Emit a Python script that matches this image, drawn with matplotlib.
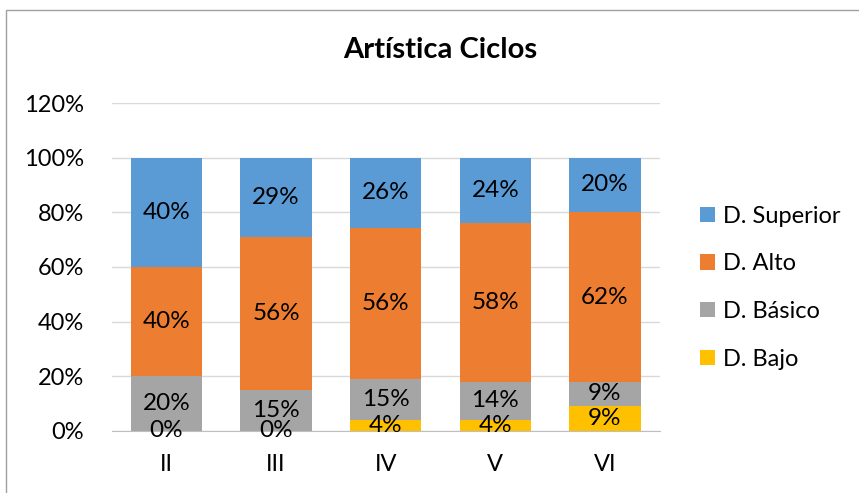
import matplotlib.pyplot as plt
import numpy as np
from matplotlib.patches import Rectangle

plt.rcParams['font.family'] = ['Lato', 'DejaVu Sans']

categories = ["II", "III", "IV", "V", "VI"]
bajo = [0, 0, 4, 4, 9]
basico = [20, 15, 15, 14, 9]
alto = [40, 56, 56, 58, 62]
superior = [40, 29, 26, 24, 20]

series = [("D. Bajo", bajo, "#FFC000"),
          ("D. Básico", basico, "#A5A5A5"),
          ("D. Alto", alto, "#ED7D31"),
          ("D. Superior", superior, "#5B9BD5")]

# 100% stacked: each column scaled to its total
totals = np.sum([s[1] for s in series], axis=0).astype(float)

fig = plt.figure(figsize=(8.59, 4.93), dpi=100)
ax = fig.add_axes([0.130, 0.126, 0.638, 0.665])

x = np.arange(len(categories))
bottom = np.zeros(len(categories))
handles = []
for name, vals, col in series:
    vals = np.array(vals, dtype=float)
    h = vals / totals * 100
    b = ax.bar(x, h, 0.65, bottom=bottom, color=col, label=name, zorder=2)
    handles.append(b)
    for xi, v, hv, bt in zip(x, vals, h, bottom):
        ax.text(xi, bt + hv / 2, f"{int(v)}%", ha="center", va="center",
                fontsize=17.5, color="black", zorder=3)
    bottom += h

ax.set_ylim(0, 120)
ax.set_xlim(-0.5, len(categories) - 0.5)
ax.set_yticks(np.arange(0, 121, 20))
ax.set_yticklabels([f"{v}%" for v in range(0, 121, 20)])
ax.set_xticks(x)
ax.set_xticklabels(categories)
ax.tick_params(axis="both", length=0, labelsize=17, colors="black")
ax.tick_params(axis="x", pad=17)
ax.tick_params(axis="y", pad=20)
ax.yaxis.grid(True, color="#D9D9D9", linewidth=1, zorder=0)
for s in ["top", "right", "left"]:
    ax.spines[s].set_visible(False)
ax.spines["bottom"].set_color("#BFBFBF")

fig.suptitle("Artística Ciclos", x=0.513, y=0.925, fontsize=21, fontweight="bold")

leg = ax.legend(handles[::-1], [s[0] for s in series][::-1],
                loc="center left", bbox_to_anchor=(1.035, 0.437), frameon=False,
                fontsize=17, handlelength=0.62, handleheight=0.62,
                handletextpad=0.35, labelspacing=1.13)

fig.patches.append(Rectangle((0.007, -0.1), 1.1, 1.08, transform=fig.transFigure,
                             fill=False, edgecolor="#A0A0A0", linewidth=1))

fig.savefig("out.png", dpi=100)
